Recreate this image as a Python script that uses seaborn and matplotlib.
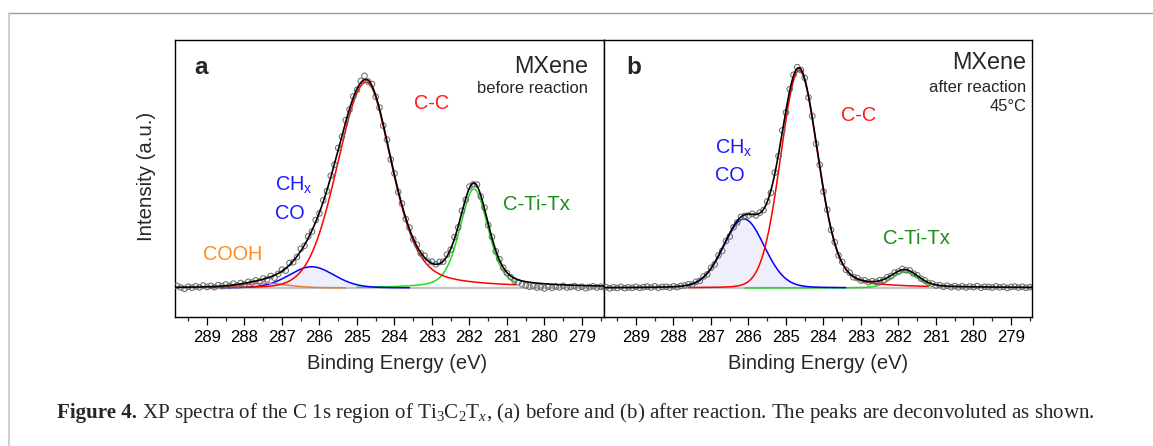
import numpy as np
import matplotlib
matplotlib.use("Agg")
import matplotlib.pyplot as plt
from matplotlib.lines import Line2D
from matplotlib.ticker import MultipleLocator, FixedLocator
import seaborn as sns

# ---------------- data ----------------
energy_a = np.round(np.arange(289.8, 278.35, -0.1), 1)   # measured grid, eV
energy_b = np.round(np.arange(289.8, 278.35, -0.1), 1)

counts_a = [0.010, 0.002, -0.004, 0.006, 0.001, 0.008, 0.003, 0.012, 0.005, 0.010,
            0.004, 0.014, 0.009, 0.017, 0.010, 0.021, 0.013, 0.024, 0.018, 0.030,
            0.026, 0.037, 0.031, 0.046, 0.041, 0.058, 0.050, 0.068, 0.089, 0.084,
            0.121, 0.125, 0.150, 0.190, 0.205, 0.250, 0.274, 0.330, 0.362, 0.426,
            0.470, 0.545, 0.598, 0.680, 0.735, 0.815, 0.866, 0.930, 0.962, 1.005,
            1.030, 1.002, 0.990, 0.928, 0.876, 0.788, 0.720, 0.624, 0.556, 0.466,
            0.410, 0.335, 0.293, 0.236, 0.210, 0.168, 0.156, 0.128, 0.128, 0.115,
            0.126, 0.128, 0.162, 0.186, 0.247, 0.294, 0.375, 0.428, 0.492, 0.503,
            0.502, 0.444, 0.390, 0.305, 0.248, 0.178, 0.140, 0.098, 0.072, 0.052,
            0.036, 0.028, 0.018, 0.012, 0.006, 0.009, 0.002, 0.004, -0.002, 0.006,
            0.001, 0.007, 0.003, 0.010, 0.002, 0.005, 0.009, 0.001, 0.006, -0.001,
            0.004, 0.008, 0.002, 0.006, 0.003]

counts_b = [0.004, -0.002, 0.003, 0.000, 0.005, -0.001, 0.003, 0.001, 0.006, 0.000,
            0.004, 0.007, 0.002, 0.008, 0.001, 0.005, 0.006, 0.002, 0.008, 0.004,
            0.010, 0.012, 0.018, 0.017, 0.030, 0.034, 0.056, 0.066, 0.098, 0.115,
            0.158, 0.180, 0.228, 0.250, 0.295, 0.318, 0.345, 0.350, 0.352, 0.360,
            0.352, 0.365, 0.378, 0.420, 0.462, 0.560, 0.640, 0.765, 0.852, 0.965,
            1.035, 1.072, 1.058, 1.020, 0.925, 0.835, 0.700, 0.598, 0.468, 0.380,
            0.282, 0.222, 0.158, 0.126, 0.088, 0.074, 0.052, 0.048, 0.036, 0.037,
            0.028, 0.033, 0.030, 0.038, 0.039, 0.052, 0.058, 0.075, 0.080, 0.092,
            0.086, 0.085, 0.070, 0.062, 0.045, 0.037, 0.024, 0.021, 0.012, 0.014,
            0.006, 0.011, 0.004, 0.009, 0.003, 0.008, 0.002, 0.007, 0.004, 0.009,
            0.001, 0.006, 0.005, 0.002, 0.008, 0.003, 0.006, 0.000, 0.005, 0.007,
            0.002, 0.006, 0.001, 0.004, 0.003]

# fitted components: name, centre (eV), height, half-widths (high/low BE side), Lorentz fraction
comp_a = ["C-C", "C-Ti-Tx", "CHx", "COOH"]
center_a = [284.75, 281.88, 286.21, 287.45]
height_a = [1.000, 0.480, 0.103, 0.023]
hw_hi_a = [0.90, 0.45, 0.71, 0.70]
hw_lo_a = [0.80, 0.45, 0.71, 0.70]
eta_hi_a = [0.05, 0.35, 0.15, 0.30]
eta_lo_a = [0.40, 0.35, 0.15, 0.30]
fit_hi_a = [288.9, 285.0, 288.6, 288.9]
fit_lo_a = [280.75, 280.75, 283.6, 285.3]

comp_b = ["C-C", "C-Ti-Tx", "CHx"]
center_b = [284.65, 281.83, 286.12]
height_b = [1.056, 0.077, 0.335]
hw_hi_b = [0.58, 0.42, 0.64]
hw_lo_b = [0.60, 0.42, 0.64]
eta_hi_b = [0.05, 0.20, 0.10]
eta_lo_b = [0.25, 0.20, 0.10]
fit_hi_b = [287.6, 286.1, 287.6]
fit_lo_b = [281.2, 281.2, 283.4]

ticks = [289, 288, 287, 286, 285, 284, 283, 282, 281, 280, 279]

line_col = {"C-C": "#ff0000", "C-Ti-Tx": "#1fdd1f", "CHx": "#0000ff", "COOH": "#e08238"}

# ---------------- style ----------------
sns.set_style("ticks")
plt.rcParams["font.family"] = ["Liberation Sans", "DejaVu Sans"]
plt.rcParams["mathtext.fontset"] = "custom"
plt.rcParams["mathtext.rm"] = "Liberation Serif"
plt.rcParams["mathtext.it"] = "Liberation Serif:italic"
plt.rcParams["mathtext.sf"] = "Liberation Sans"

W, H = 1153, 446
fig = plt.figure(figsize=(W / 100, H / 100), dpi=100)
fig.patch.set_facecolor("white")


def fx(x):
    return x / W


def fy(y):
    return 1 - y / H


def pv(x, c, h, hwh, hwl, eh, el):
    d = x - c
    hw = np.where(d > 0, hwh, hwl)
    eta = np.where(d > 0, eh, el)
    u = (d / hw) ** 2
    return h * ((1 - eta) * np.exp(-np.log(2) * u) + eta / (1 + u))


ax_top, ax_bot = 40, 317
axa = fig.add_axes([fx(175), fy(ax_bot), fx(604) - fx(175), fy(ax_top) - fy(ax_bot)])
axb = fig.add_axes([fx(604), fy(ax_bot), fx(1032) - fx(604), fy(ax_top) - fy(ax_bot)])


def panel(ax, energy, counts, names, cen, hei, hwh, hwl, eh, el, fhi, flo, xlim):
    grid = np.linspace(xlim[0], xlim[1], 1200)
    comps = [pv(grid, *p) for p in zip(cen, hei, hwh, hwl, eh, el)]
    env = np.sum(comps, axis=0)
    # light fill under CHx component
    k = names.index("CHx")
    m = (grid <= fhi[k]) & (grid >= flo[k])
    ax.fill_between(grid[m], 0, comps[k][m], color="#efeffc", lw=0, zorder=1)
    sns.lineplot(x=grid, y=np.zeros_like(grid), ax=ax, color="#c4c4c4", lw=1.6,
                 estimator=None, sort=False, zorder=2)
    order = ["C-Ti-Tx", "CHx", "COOH", "C-C"]
    for nm in order:
        if nm not in names:
            continue
        i = names.index(nm)
        m = (grid <= fhi[i]) & (grid >= flo[i])
        sns.lineplot(x=grid[m], y=comps[i][m], ax=ax, color=line_col[nm], lw=1.1,
                     estimator=None, sort=False, zorder=3)
    sns.scatterplot(x=energy, y=counts, ax=ax, marker="o", s=16, facecolor="none",
                    edgecolor="#6e6e6e", linewidth=0.75, zorder=4)
    sns.lineplot(x=grid, y=env, ax=ax, color="black", lw=1.2, estimator=None,
                 sort=False, zorder=5)
    ax.set_xlim(*xlim)
    ax.set_ylim(-0.141, 1.204)
    ax.xaxis.set_major_locator(FixedLocator(ticks))
    ax.xaxis.set_minor_locator(MultipleLocator(0.5))
    ax.set_yticks([])
    ax.tick_params(axis="x", which="major", direction="out", length=5.5, width=0.9,
                   labelsize=12.0, pad=4.0, colors="black")
    ax.tick_params(axis="x", which="minor", direction="out", length=3, width=0.9)
    for s in ax.spines.values():
        s.set_visible(True)
        s.set_color("black")
        s.set_linewidth(1.0)
    ax.set_xlabel("Binding Energy (eV)", fontsize=14.5, labelpad=6)
    ax.set_ylabel("")


panel(axa, energy_a, counts_a, comp_a, center_a, height_a, hw_hi_a, hw_lo_a,
      eta_hi_a, eta_lo_a, fit_hi_a, fit_lo_a, (289.853, 278.413))
panel(axb, energy_b, counts_b, comp_b, center_b, height_b, hw_hi_b, hw_lo_b,
      eta_hi_b, eta_lo_b, fit_hi_b, fit_lo_b, (289.853, 278.44))
axa.xaxis.label.set_x(0.517)

axa.set_ylabel("Intensity (a.u.)", fontsize=14.7)
axa.yaxis.set_label_coords(-0.045, 0.509)


def T(x, y, s, ha="left", **kw):
    return fig.text(fx(x), fy(y), s, ha=ha, va="baseline", **kw)


# panel a annotations
T(194, 74, "a", fontsize=17.5, fontweight="bold")
T(588, 72.7, "MXene", ha="right", fontsize=16.8)
T(588, 92.7, "before reaction", ha="right", fontsize=11.9)
T(414, 109, "C-C", fontsize=14.3, color="#ff1a1a")
T(275, 190, r"CH$_\mathsf{x}$", fontsize=14.3, color="#1a1aff")
T(275, 219, "CO", fontsize=14.3, color="#1a1aff")
T(202.7, 260, "COOH", fontsize=14.3, color="#ff8c1a")
T(502.7, 210, "C-Ti-Tx", fontsize=14.6, color="#1a8c1a")

# panel b annotations
T(626.7, 74, "b", fontsize=17.5, fontweight="bold")
T(1026, 69.3, "MXene", ha="right", fontsize=16.8)
T(1026, 91.7, "after reaction", ha="right", fontsize=11.9)
T(1026, 111, "45°C", ha="right", fontsize=11.9)
T(841, 120.7, "C-C", fontsize=14.3, color="#ff1a1a")
T(715, 152.7, r"CH$_\mathsf{x}$", fontsize=14.3, color="#1a1aff")
T(715, 180.7, "CO", fontsize=14.3, color="#1a1aff")
T(883.3, 244.3, "C-Ti-Tx", fontsize=14.6, color="#1a8c1a")

# page frame lines
fig.add_artist(Line2D([fx(9), 1.0], [fy(13.3), fy(13.3)], color="#9c9c9c", lw=1.0))
fig.add_artist(Line2D([fx(9), fx(9)], [fy(13.3), 0.0], color="#cdcdcd", lw=1.4))

# caption
cap_size = 15.15
serif = ["Liberation Serif", "DejaVu Serif"]
t1 = T(57, 418, "Figure 4.", fontsize=cap_size, fontweight="bold", family=serif)
fig.canvas.draw()
r = fig.canvas.get_renderer()
bb1 = t1.get_window_extent(r)
t2 = fig.text(bb1.x1 / W + 5 / W, fy(418),
              r"XP spectra of the C 1s region of Ti$_3$C$_2$T$_x$, (a) before and (b) after "
              r"reaction. The peaks are deconvoluted as shown.",
              ha="left", va="baseline", fontsize=cap_size, family=serif)

fig.savefig("out.png", dpi=100, facecolor="white")
